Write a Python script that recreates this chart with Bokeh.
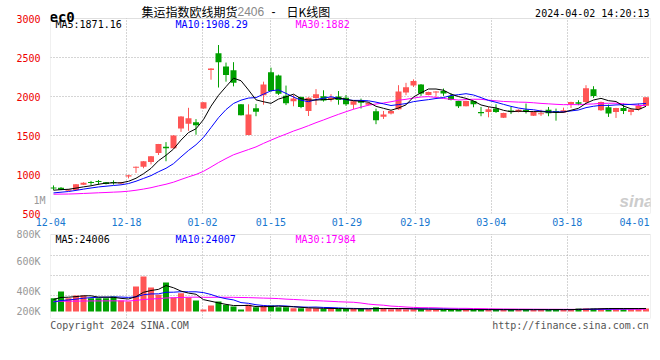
import numpy as np
from bokeh.plotting import figure
from bokeh.models import (Range1d, LinearAxis, FixedTicker, Grid, Label, ColumnDataSource,
                          BoxAnnotation)
from bokeh.layouts import column
from bokeh.embed import file_html
from bokeh.resources import INLINE

# ---------------- data ----------------
tick_labels = ["12-04", "12-18", "01-02", "01-15", "01-29", "02-19", "03-04", "03-18", "04-01"]
tick_index = [0, 10, 20, 29, 39, 48, 58, 68, 78]

opens = [830, 830, 792, 800, 868, 900, 915, 900, 900, 885,
         975, 1085, 1100, 1160, 1275, 1355, 1335, 1590, 1650, 1670,
         1845, 2340, 2555, 2385, 2335, 1900, 1505, 1850, 2015, 2310,
         2270, 2010, 1940, 1995, 1815, 1980, 2004, 1962, 2000, 1985,
         1895, 1942, 1893, 1810, 1740, 1783, 1835, 2050, 2140, 2155,
         2018, 2052, 2070, 2005, 1943, 1876, 1943, 1800, 1802, 1845,
         1726, 1822, 1800, 1830, 1752, 1778, 1830, 1815, 1796, 1905,
         1925, 1930, 2093, 1825, 1862, 1802, 1853, 1800, 1837, 1880]
highs = [860, 838, 812, 878, 900, 918, 930, 903, 925, 902,
         995, 1102, 1172, 1237, 1392, 1415, 1505, 1748, 1855, 1710,
         1927, 2363, 2660, 2435, 2440, 1903, 1900, 1905, 2190, 2370,
         2280, 2140, 2020, 2000, 1990, 2095, 2080, 2030, 2070, 2020,
         1940, 1973, 1925, 1845, 1815, 1817, 2145, 2175, 2220, 2160,
         2062, 2068, 2102, 2040, 1945, 1945, 1945, 1866, 1866, 1900,
         1792, 1866, 1835, 1910, 1805, 1830, 1866, 1845, 1857, 1933,
         1952, 2145, 2132, 1935, 1897, 1855, 1910, 1834, 1910, 1992]
lows = [800, 800, 790, 798, 865, 862, 868, 873, 870, 882,
        950, 1020, 1080, 1130, 1250, 1170, 1333, 1546, 1560, 1510,
        1843, 2215, 2115, 2190, 2130, 1757, 1503, 1747, 1895, 2060,
        2020, 1890, 1875, 1850, 1750, 1890, 1935, 1935, 1895, 1880,
        1837, 1846, 1885, 1645, 1712, 1770, 1830, 2017, 2122, 2008,
        2015, 1995, 2008, 1950, 1853, 1874, 1862, 1747, 1733, 1790,
        1724, 1775, 1797, 1782, 1750, 1751, 1747, 1690, 1790, 1853,
        1888, 1905, 1982, 1815, 1738, 1725, 1775, 1760, 1820, 1878]
closes = [824, 805, 808, 875, 895, 893, 905, 878, 893, 898,
          990, 1100, 1170, 1235, 1390, 1335, 1500, 1745, 1720, 1630,
          1925, 2360, 2440, 2275, 2175, 1760, 1770, 1805, 2155, 2070,
          2035, 1915, 1975, 1865, 1985, 2030, 1950, 1985, 1955, 1900,
          1938, 1920, 1918, 1695, 1770, 1815, 2065, 2120, 2200, 2037,
          2058, 2065, 2040, 1955, 1876, 1943, 1900, 1785, 1837, 1802,
          1790, 1805, 1830, 1808, 1802, 1782, 1785, 1797, 1824, 1930,
          1908, 2105, 2008, 1930, 1782, 1853, 1815, 1832, 1880, 1990]
volumes = [106000, 160000, 106000, 128000, 128000, 106000, 106000, 106000, 120000, 88000,
           80000, 200000, 280000, 192000, 134000, 232000, 112000, 146000, 112000, 88000,
           16000, 48000, 80000, 54000, 40000, 16000, 54000, 34000, 48000, 48000,
           34000, 34000, 26000, 26000, 26000, 26000, 22000, 22000, 22000, 22000,
           21000, 21000, 19000, 34000, 26000, 19000, 21000, 19000, 19000, 19000,
           15000, 14500, 15200, 14800, 15000, 15300, 14700, 15000, 14900, 15100,
           15000, 14800, 15200, 15000, 14900, 15100, 15000, 17500, 14000, 13500,
           24300, 23900, 24100, 23800, 23940, 24500, 23800, 23600, 24100, 24030]
# closes / volumes of the sessions just before the window (needed by the moving averages)
prior_closes = [760, 775, 780, 770, 765, 772, 768, 760, 770, 750,
                735, 720, 705, 700, 695, 705, 710, 715, 712, 703,
                715, 720, 728, 735, 747, 770, 785, 800, 815]
prior_volumes = [96000, 104000, 112000, 96000, 88000, 104000, 96000, 112000, 104000, 96000,
                 64000, 56000, 72000, 64000, 56000, 64000, 72000, 64000, 56000, 64000,
                 48000, 56000, 64000, 56000, 56000, 80000, 96000, 104000, 96000]

price_ticks = [500, 1000, 1500, 2000, 2500, 3000]
price_header = ["MA5:1871.16", "MA10:1908.29", "MA30:1882"]
vol_header = ["MA5:24006", "MA10:24007", "MA30:17984"]
vol_tick_labels = ["1M", "800K", "600K", "400K", "200K"]
footer = ["Copyright 2024 SINA.COM", "http://finance.sina.com.cn"]

# ---------------- helpers ----------------
def rolling(prior, seq, n):
    full = list(prior) + list(seq)
    off = len(prior)
    return [sum(full[off + i - n + 1: off + i + 1]) / n for i in range(len(seq))]

N = len(closes)
idx = list(range(N))
UP, DOWN = "#ff5555", "#00a000"
cols = [UP if c >= o else DOWN for o, c in zip(opens, closes)]
PX = 2500 / 195.0  # price units per pixel
btop, bbot = [], []
for o, c in zip(opens, closes):
    t, b = max(o, c), min(o, c)
    if t - b < PX:
        m = (t + b) / 2
        t, b = m + PX / 2, m - PX / 2
    btop.append(t)
    bbot.append(b)

ma5 = rolling(prior_closes, closes, 5)
ma10 = rolling(prior_closes, closes, 10)
ma30 = rolling(prior_closes, closes, 30)
vma5 = rolling(prior_volumes, volumes, 5)
vma10 = rolling(prior_volumes, volumes, 10)
vma30 = rolling(prior_volumes, volumes, 30)

src = ColumnDataSource(dict(x=idx, o=opens, h=highs, l=lows, c=closes, bt=btop, bb=bbot,
                            col=cols, v=volumes, ma5=ma5, ma10=ma10, ma30=ma30,
                            vma5=vma5, vma10=vma10, vma30=vma30))

# pixel -> data helpers for placing the texts
def X(px):
    return (px - 53.0) / 7.5
def YM(py):
    return 500 + (213 - py) * PX
VPX = 8000.0
def YV(py):
    return (311 - py) * VPX

MONO = "DejaVu Sans Mono"
GRIDC = "#aaaaaa"
FRAME = "#999999"
grid_x = [X(50 + 7.6 * k) for k in tick_index[1:-1]]
label_x = [X(min(max(50 + 7.6 * k, 50.3), 634)) for k in tick_index]

x_range = Range1d(-0.4, 79.6)
MAIN_TOP, MAIN_BOT = 0, 213      # main frame (page px)
VOL_TOP, VOL_BOT = 228, 318      # volume frame (page px)

def plain_axis(**kw):
    return LinearAxis(axis_line_color=None, major_tick_line_color=None,
                      minor_tick_line_color=None, major_label_text_font=MONO,
                      major_label_text_font_size="10px", **kw)

def lab(fig, x, y, text, color="black", size="10px", font=MONO, align="left",
        baseline="middle", style="normal"):
    fig.add_layout(Label(x=x, y=y, text=text, text_color=color, text_font_size=size,
                         text_font=font, text_align=align, text_baseline=baseline,
                         text_font_style=style))

# ---------------- main price panel ----------------
# the frame reaches the top of the canvas so that the title row can be drawn in it
p = figure(width=656, height=VOL_TOP, x_range=x_range, y_range=Range1d(500, YM(MAIN_TOP)),
           frame_width=600, frame_height=MAIN_BOT - MAIN_TOP,
           x_axis_type=None, y_axis_type=None, output_backend="svg", toolbar_location=None,
           min_border_left=50, min_border_right=6, min_border_top=0,
           min_border_bottom=VOL_TOP - MAIN_BOT,
           outline_line_color=None, background_fill_color="white", border_fill_color="white")

yax = plain_axis(ticker=FixedTicker(ticks=price_ticks), major_label_text_color="#ee0000",
                 major_label_standoff=4)
p.add_layout(yax, "left")
yax2 = plain_axis(ticker=FixedTicker(ticks=[YM(200.3)]),
                  major_label_overrides={YM(200.3): vol_tick_labels[0]},
                  major_label_text_color="#999999", major_label_standoff=-38)
p.add_layout(yax2, "left")
xax = plain_axis(ticker=FixedTicker(ticks=label_x),
                 major_label_overrides={lx: t for lx, t in zip(label_x, tick_labels)},
                 major_label_text_color="#1878d0", major_label_standoff=4, major_tick_out=0)
p.add_layout(xax, "below")
p.add_layout(Grid(dimension=1, ticker=FixedTicker(ticks=price_ticks[1:-1]),
                  grid_line_color=GRIDC, grid_line_dash="1 2"))
p.add_layout(Grid(dimension=0, ticker=FixedTicker(ticks=grid_x),
                  grid_line_color=GRIDC, grid_line_dash="1 2"))
p.add_layout(BoxAnnotation(bottom=price_ticks[-1], fill_color="white", fill_alpha=1.0,
                           line_color=None, level="underlay"))

p.segment(x0="x", y0="l", x1="x", y1="h", line_color="col", line_width=1, source=src)
p.vbar(x="x", width=0.8, top="bt", bottom="bb", fill_color="col", line_color=None, source=src)
p.line("x", "ma30", line_color="#ff00ff", line_width=1, source=src)
p.line("x", "ma10", line_color="#0000ff", line_width=1, source=src)
p.line("x", "ma5", line_color="black", line_width=1, source=src)
p.add_layout(BoxAnnotation(bottom=price_ticks[0], top=price_ticks[-1], fill_alpha=0,
                           line_color=FRAME, line_width=1))

lab(p, X(49), YM(16), "ec0", size="14px", style="bold", baseline="alphabetic")
lab(p, X(141), YM(10.5), "集运指数欧线期货", size="12px", font="Noto Sans CJK SC")
lab(p, X(237), YM(10.5), "2406", color="#888888", size="12px", font="Liberation Sans")
lab(p, X(271), YM(10.5), "-", size="12px", font="Liberation Sans")
lab(p, X(286), YM(10.5), "日K线图", size="12px", font="Noto Sans CJK SC")
lab(p, X(649), YM(12.5), "2024-04-02 14:20:13", align="right")
for px_, t, c in zip([55, 175, 295], price_header, ["black", "#0000ff", "#ff00ff"]):
    lab(p, X(px_), YM(24), t, color=c)
lab(p, X(636), YM(201), "sina", color="#cccccc", size="17px", font="Liberation Sans",
    align="center", style="bold italic")

# ---------------- volume panel ----------------
v = figure(width=656, height=(VOL_BOT - VOL_TOP) + 22, x_range=x_range,
           y_range=Range1d(YV(VOL_BOT), YV(VOL_TOP)),
           frame_width=600, frame_height=VOL_BOT - VOL_TOP,
           x_axis_type=None, y_axis_type=None, output_backend="svg", toolbar_location=None,
           min_border_left=50, min_border_right=6, min_border_top=0, min_border_bottom=22,
           outline_line_color=None, background_fill_color="white", border_fill_color="white")
vy_ticks = [YV(230), YV(260.5), YV(290.5), YV(310.5)]
vyax = plain_axis(ticker=FixedTicker(ticks=vy_ticks),
                  major_label_overrides={t: s for t, s in zip(vy_ticks, vol_tick_labels[1:])},
                  major_label_text_color="#999999", major_label_standoff=4)
v.add_layout(vyax, "left")
fx = [X(119), X(570)]
vxax = plain_axis(ticker=FixedTicker(ticks=fx),
                  major_label_overrides={t: s for t, s in zip(fx, footer)},
                  major_label_text_color="#555555", major_label_standoff=-5)
v.add_layout(vxax, "below")
v.add_layout(Grid(dimension=1, ticker=FixedTicker(ticks=[YV(295), YV(275), YV(255)]),
                  grid_line_color=GRIDC, grid_line_dash="1 2"))
v.add_layout(Grid(dimension=0, ticker=FixedTicker(ticks=grid_x),
                  grid_line_color=GRIDC, grid_line_dash="1 2"))
v.add_layout(BoxAnnotation(bottom=YV(234), fill_color="white", fill_alpha=1.0,
                           line_color=None, level="underlay"))
v.vbar(x="x", width=0.8, top="v", bottom=0, fill_color="col", line_color=None, source=src)
v.line("x", "vma30", line_color="#ff00ff", line_width=1, source=src)
v.line("x", "vma10", line_color="#0000ff", line_width=1, source=src)
v.line("x", "vma5", line_color="black", line_width=1, source=src)
v.add_layout(BoxAnnotation(top=YV(234), fill_alpha=0, line_color=FRAME, line_width=1))

for px_, t, c in zip([55, 175, 295], vol_header, ["black", "#0000ff", "#ff00ff"]):
    lab(v, X(px_), YV(238.7), t, color=c)

layout = column(p, v, spacing=0)
open("out.html", "w").write(file_html(layout, INLINE))
